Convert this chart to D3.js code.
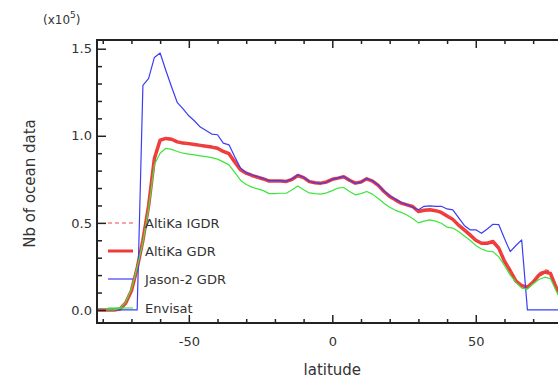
<!DOCTYPE html>
<html>
<head>
<meta charset="utf-8">
<script src="https://cdn.jsdelivr.net/npm/d3@7"></script>
<style>
  body { margin: 0; background: #fff; }
  svg { display: block; font-family: "DejaVu Sans", sans-serif; }
</style>
</head>
<body>
<div id="chart"></div>
<script>
// latitude grid, 2 degree bins
const lat = d3.range(-82, 83, 2);

// values in units of 1e5
const altikaGdr = [
  0, 0, 0, 0, 0.005, 0.04, 0.11, 0.24, 0.40, 0.60, 0.87,
  0.975, 0.985, 0.98, 0.965, 0.958, 0.955, 0.95, 0.945, 0.94, 0.935, 0.928,
  0.91, 0.897, 0.85, 0.805, 0.785, 0.772, 0.762, 0.752, 0.74, 0.74, 0.74,
  0.738, 0.75, 0.772, 0.76, 0.737, 0.73, 0.728, 0.735, 0.75, 0.757, 0.765,
  0.745, 0.728, 0.735, 0.753, 0.74, 0.715, 0.68, 0.652, 0.632, 0.613, 0.603,
  0.594, 0.565, 0.572, 0.575, 0.57, 0.56, 0.54, 0.52, 0.487, 0.46, 0.431,
  0.40, 0.383, 0.383, 0.393, 0.355, 0.28, 0.225, 0.165, 0.14, 0.13, 0.16,
  0.20, 0.218, 0.21, 0.13, 0.06, 0.03
];

const altikaIgdr = [
  0, 0, 0, 0, 0.005, 0.04, 0.11, 0.24, 0.40, 0.60, 0.87,
  0.978, 0.988, 0.982, 0.967, 0.96, 0.956, 0.951, 0.946, 0.94, 0.936, 0.929,
  0.912, 0.898, 0.852, 0.806, 0.786, 0.773, 0.763, 0.753, 0.741, 0.741, 0.741,
  0.739, 0.751, 0.773, 0.761, 0.738, 0.731, 0.729, 0.736, 0.751, 0.758, 0.766,
  0.746, 0.729, 0.736, 0.754, 0.741, 0.716, 0.681, 0.653, 0.633, 0.614, 0.604,
  0.595, 0.567, 0.574, 0.577, 0.572, 0.562, 0.542, 0.522, 0.489, 0.462, 0.433,
  0.402, 0.386, 0.387, 0.398, 0.36, 0.285, 0.228, 0.168, 0.143, 0.135, 0.168,
  0.21, 0.23, 0.225, 0.14, 0.065, 0.03
];

const jason2Gdr = [
  0, 0, 0, 0, 0, 0, 0, 0, 1.29, 1.33, 1.45,
  1.475, 1.375, 1.28, 1.19, 1.155, 1.115, 1.085, 1.05, 1.03, 1.01, 1.006,
  0.958, 0.948, 0.879, 0.815, 0.787, 0.775, 0.765, 0.755, 0.742, 0.742, 0.742,
  0.74, 0.752, 0.775, 0.762, 0.739, 0.73, 0.726, 0.733, 0.75, 0.758, 0.766,
  0.745, 0.727, 0.734, 0.755, 0.742, 0.718, 0.683, 0.655, 0.635, 0.617, 0.605,
  0.59, 0.575, 0.595, 0.598, 0.595, 0.595, 0.58, 0.575, 0.53, 0.485, 0.46,
  0.46, 0.44, 0.465, 0.492, 0.49, 0.41, 0.335, 0.37, 0.402, 0, 0,
  0, 0, 0, 0, 0, 0
];

const envisat = [
  0, 0, 0, 0, 0.01, 0.045, 0.12, 0.245, 0.39, 0.58, 0.835,
  0.90, 0.928, 0.922, 0.91, 0.90, 0.895, 0.89, 0.885, 0.88, 0.875, 0.866,
  0.85, 0.833, 0.79, 0.745, 0.72, 0.705, 0.695, 0.685, 0.668, 0.668, 0.67,
  0.67, 0.69, 0.712, 0.69, 0.672, 0.668, 0.665, 0.672, 0.685, 0.70, 0.703,
  0.68, 0.661, 0.668, 0.68, 0.665, 0.64, 0.613, 0.59, 0.572, 0.56, 0.545,
  0.525, 0.50, 0.51, 0.517, 0.51, 0.498, 0.475, 0.47, 0.45, 0.425, 0.40,
  0.37, 0.35, 0.338, 0.335, 0.305, 0.255, 0.20, 0.16, 0.125, 0.12, 0.15,
  0.175, 0.188, 0.18, 0.11, 0.05, 0.02
];

const xTicks = d3.range(-80, 81, 10);
const xMajor = [-50, 0, 50];
const yTicks = d3.range(0, 1.51, 0.1);
const yMajor = [0, 0.5, 1.0, 1.5];

const seriesNames = ["AltiKa IGDR", "AltiKa GDR", "Jason-2 GDR", "Envisat"];

const W = 558, H = 378;
const margin = { top: 40, left: 97 };
const plotRight = 567.6, plotBottom = 323;

const svg = d3.select("#chart").append("svg")
  .attr("width", W).attr("height", H);

const x = d3.scaleLinear().domain([-82, 82]).range([margin.left, plotRight]);
const y = d3.scaleLinear().domain([-0.075, 1.55]).range([plotBottom, margin.top]);

svg.append("defs").append("clipPath").attr("id", "plot-clip")
  .append("rect")
  .attr("x", margin.left).attr("y", margin.top)
  .attr("width", plotRight - margin.left).attr("height", plotBottom - margin.top);

const styles = [
  { data: altikaIgdr, color: "#f04848", width: 1.2, dash: "4,3" },
  { data: altikaGdr, color: "#ee3a3a", width: 3.5, dash: null },
  { data: jason2Gdr, color: "#3c3cf5", width: 1.2, dash: null },
  { data: envisat, color: "#3ce63c", width: 1.2, dash: null },
];

const line = d3.line()
  .x((d, i) => x(lat[i]))
  .y(d => y(d));

const gLines = svg.append("g").attr("clip-path", "url(#plot-clip)");
// draw GDR first so dashed IGDR stays visible on top
[1, 0, 2, 3].forEach(k => {
  const s = styles[k];
  gLines.append("path")
    .attr("d", line(s.data))
    .attr("fill", "none")
    .attr("stroke", s.color)
    .attr("stroke-width", s.width)
    .attr("stroke-dasharray", s.dash)
    .attr("stroke-linejoin", "round");
});

const axisColor = "#222";

// bottom axis, ticks pointing inward
const xAxis = svg.append("g")
  .attr("transform", `translate(0,${plotBottom})`)
  .call(d3.axisBottom(x).tickValues(xTicks).tickSize(-4).tickPadding(11)
    .tickFormat(d => xMajor.includes(d) ? d : ""))
  .call(g => g.select(".domain").remove());
xAxis.selectAll(".tick line").attr("stroke", axisColor).attr("stroke-width", 1.5)
  .attr("y2", d => xMajor.includes(d) ? -8 : -4);
xAxis.selectAll(".tick text").attr("fill", "#333").attr("font-size", 13)
  .attr("font-family", "DejaVu Sans").attr("dy", "0.9em");

// top axis
const xTop = svg.append("g")
  .attr("transform", `translate(0,${margin.top})`)
  .call(d3.axisTop(x).tickValues(xTicks).tickSize(-4).tickFormat(""))
  .call(g => g.select(".domain").remove());
xTop.selectAll(".tick line").attr("stroke", axisColor).attr("stroke-width", 1.5)
  .attr("y2", d => xMajor.includes(d) ? 8 : 4);

// left axis
const yAxis = svg.append("g")
  .attr("transform", `translate(${margin.left},0)`)
  .call(d3.axisLeft(y).tickValues(yTicks).tickSize(-5).tickPadding(5)
    .tickFormat(d => yMajor.some(m => Math.abs(m - d) < 1e-6) ? d3.format(".1f")(d) : ""))
  .call(g => g.select(".domain").remove());
yAxis.selectAll(".tick line").attr("stroke", axisColor).attr("stroke-width", 1.5)
  .attr("x2", d => yMajor.some(m => Math.abs(m - d) < 1e-6) ? 9 : 5);
yAxis.selectAll(".tick text").attr("fill", "#333").attr("font-size", 13)
  .attr("font-family", "DejaVu Sans");

// frame
svg.append("path")
  .attr("d", `M${plotRight},${margin.top}H${margin.left}V${plotBottom}H${plotRight}`)
  .attr("fill", "none").attr("stroke", axisColor).attr("stroke-width", 2);

// axis titles
svg.append("text")
  .attr("x", x(0)).attr("y", 370).attr("dy", "0.35em")
  .attr("text-anchor", "middle").attr("font-size", 15).attr("fill", "#333")
  .text("latitude");

svg.append("text")
  .attr("transform", `translate(35,${(margin.top + plotBottom) / 2 + 2}) rotate(-90)`)
  .attr("text-anchor", "middle").attr("font-size", 15).attr("fill", "#333")
  .text("Nb of ocean data");

const mult = svg.append("text")
  .attr("x", 43).attr("y", 24).attr("font-size", 12).attr("fill", "#333");
mult.append("tspan").text("(x10");
mult.append("tspan").attr("dy", -6).attr("font-size", 9).text("5");
mult.append("tspan").attr("dy", 6).text(")");

// legend
const legendY = [223, 251, 279, 308];
const legend = svg.append("g");
styles.forEach((s, i) => {
  legend.append("line")
    .attr("x1", 108).attr("x2", 133)
    .attr("y1", legendY[i]).attr("y2", legendY[i])
    .attr("stroke", s.color)
    .attr("stroke-width", Math.min(s.width, 3))
    .attr("stroke-dasharray", s.dash);
  legend.append("text")
    .attr("x", 145).attr("y", legendY[i]).attr("dy", "0.35em")
    .attr("font-size", 13).attr("fill", "#333")
    .text(seriesNames[i]);
});
</script>
</body>
</html>
